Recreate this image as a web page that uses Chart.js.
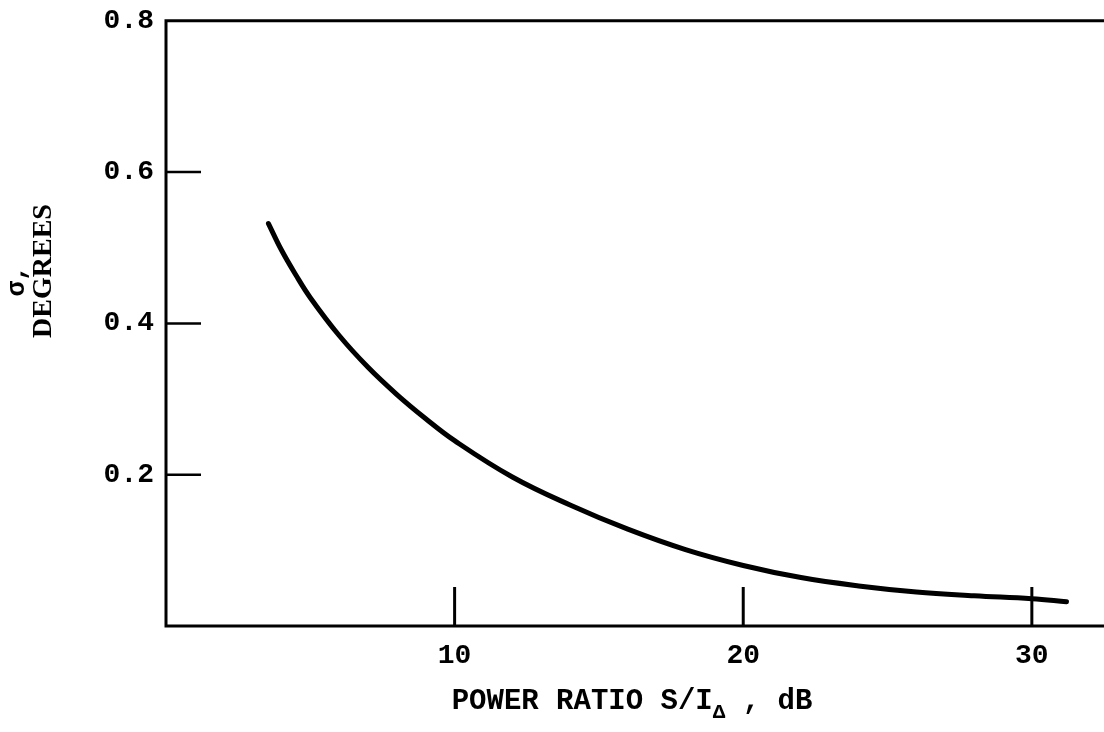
<!DOCTYPE html>
<html>
<head>
<meta charset="utf-8">
<script src="https://cdn.jsdelivr.net/npm/chart.js@4"></script>
<style>
  body { margin: 0; background: #fff; }
</style>
</head>
<body>
<canvas id="sigmaChart" width="1104" height="732"></canvas>
<script>
const powerRatio = [3.55, 4, 4.5, 5, 6, 7, 8, 9, 10, 12, 14, 16, 18, 20, 22, 24, 26, 28, 30, 31.2];
const sigmaDeg = [0.532, 0.497, 0.464, 0.434, 0.384, 0.342, 0.306, 0.274, 0.245, 0.197, 0.16, 0.128, 0.101, 0.08, 0.064, 0.053, 0.045, 0.04, 0.036, 0.032];
const xTicks = [10, 20, 30];
const yTicks = [0.2, 0.4, 0.6, 0.8];

const mono = "'Liberation Mono', 'DejaVu Sans Mono', monospace";

// frame, inward ticks and axis titles
const framePlugin = {
    id: 'frame',
    afterDraw(chart) {
        const ctx = chart.ctx;
        const a = chart.chartArea;
        const xs = chart.scales.x, ys = chart.scales.y;
        ctx.save();
        ctx.strokeStyle = '#000';
        ctx.lineWidth = 3;
        ctx.beginPath();
        ctx.moveTo(a.right + 5, a.top);
        ctx.lineTo(a.left, a.top);
        ctx.lineTo(a.left, a.bottom);
        ctx.lineTo(a.right + 5, a.bottom);
        ctx.stroke();

        xTicks.forEach(v => {
            const px = xs.getPixelForValue(v);
            ctx.beginPath();
            ctx.moveTo(px, a.bottom);
            ctx.lineTo(px, a.bottom - 39);
            ctx.stroke();
        });
        ctx.lineWidth = 2.5;
        yTicks.forEach(v => {
            if (v >= 0.8) return;
            const py = ys.getPixelForValue(v);
            ctx.beginPath();
            ctx.moveTo(a.left, py);
            ctx.lineTo(a.left + 35, py);
            ctx.stroke();
        });

        // x title with subscript delta
        ctx.fillStyle = '#000';
        ctx.textBaseline = 'alphabetic';
        const big = 'bold 29px ' + mono;
        const small = 'bold 21px ' + mono;
        const p1 = 'POWER RATIO S/I', p2 = '\u0394', p3 = ' , dB';
        ctx.font = big;
        const w1 = ctx.measureText(p1).width, w3 = ctx.measureText(p3).width;
        ctx.font = small;
        const w2 = ctx.measureText(p2).width;
        let x = 632 - (w1 + w2 + w3) / 2;
        const base = 709;
        ctx.font = big; ctx.fillText(p1, x, base); x += w1;
        ctx.font = small; ctx.fillText(p2, x, base + 9); x += w2;
        ctx.font = big; ctx.fillText(p3, x, base);

        // y title
        ctx.translate(44, 271);
        ctx.rotate(-Math.PI / 2);
        ctx.textAlign = 'center';
        ctx.textBaseline = 'middle';
        ctx.font = "bold 28px 'Liberation Serif', 'DejaVu Serif', serif";
        ctx.fillText('DEGREES', 0, 0);
        ctx.font = 'bold 26px ' + mono;
        ctx.fillText('\u03c3,', -10, -27);
        ctx.restore();
    }
};

new Chart(document.getElementById('sigmaChart').getContext('2d'), {
    type: 'scatter',
    data: {
        datasets: [{
            data: powerRatio.map((v, i) => ({ x: v, y: sigmaDeg[i] })),
            showLine: true,
            borderColor: '#000',
            borderWidth: 5,
            tension: 0.4,
            pointRadius: 0,
            borderCapStyle: 'round'
        }]
    },
    options: {
        responsive: false,
        animation: false,
        layout: { padding: { top: 15, right: 0, left: 0, bottom: 0 } },
        plugins: { legend: { display: false }, tooltip: { enabled: false } },
        scales: {
            x: {
                type: 'linear',
                min: 0,
                max: 32.5,
                afterBuildTicks: s => { s.ticks = xTicks.map(v => ({ value: v })); },
                afterFit: s => { s.height = 106; },
                grid: { display: false },
                border: { display: false },
                ticks: {
                    color: '#000',
                    font: { family: mono, size: 28, weight: 'bold' },
                    padding: 5,
                    maxRotation: 0
                }
            },
            y: {
                type: 'linear',
                min: 0,
                max: 0.8,
                afterBuildTicks: s => { s.ticks = yTicks.map(v => ({ value: v })); },
                afterFit: s => { s.width = 166; },
                grid: { display: false },
                border: { display: false },
                ticks: {
                    color: '#000',
                    font: { family: mono, size: 28, weight: 'bold' },
                    padding: 4,
                    callback: v => v.toFixed(1)
                }
            }
        }
    },
    plugins: [framePlugin]
});
</script>
</body>
</html>
